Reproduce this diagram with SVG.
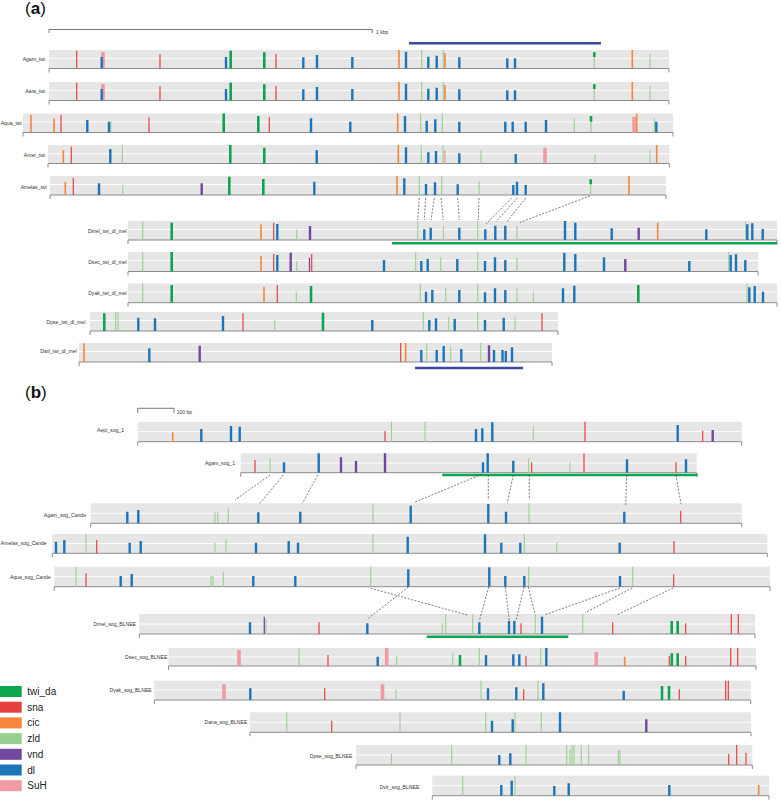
<svg xmlns="http://www.w3.org/2000/svg" width="781" height="801" viewBox="0 0 781 801">
<style>
.band{fill:#e6e6e6}
.mid{stroke:#fff;stroke-width:1;fill:none}
.base{fill:none;stroke:#8c8c8c;stroke-width:1}
.lbl{font-family:"Liberation Sans",Arial,sans-serif;font-size:5.1px;fill:#333;text-anchor:end}
.ttl{font-family:"Liberation Sans",Arial,sans-serif;font-size:17px;fill:#111}
.leg{font-family:"Liberation Sans",Arial,sans-serif;font-size:10px;fill:#222}
.sm{font-family:"Liberation Sans",Arial,sans-serif;font-size:5px;fill:#333}
.d{stroke:#1c75b8;stroke-width:2.4;fill:none}
.t{stroke:#0ea550;stroke-width:2.6;fill:none}
.s{stroke:#e8403f;stroke-width:1.2;fill:none}
.c{stroke:#f5863b;stroke-width:1.6;fill:none}
.z{stroke:#98d08f;stroke-width:1.1;fill:none}
.v{stroke:#7147a0;stroke-width:2.4;fill:none}
.h{stroke:#f29aa3;stroke-width:3.6;fill:none}
.con{stroke:#444;stroke-width:0.7;stroke-dasharray:2 1.5;fill:none}
.sc{fill:none;stroke:#555;stroke-width:0.8}
</style>

<!-- Panel a -->
<text class="ttl" x="25" y="14">(<tspan font-weight="bold">a</tspan>)</text>
<g id="scale_a">
<path class="sc" d="M49 33V29.5H372.3V33"/>
<text class="sm" x="376" y="34">1 kbp</text>
</g>
<path d="M409 43.3H601" stroke="#3b4b9e" stroke-width="2.6"/>

<g id="agam_twi">
<rect class="band" x="49" y="50" width="620" height="18.5"/>
<path class="mid" d="M49 58.3H669"/>
<path class="base" d="M49 72.5V68.5H669V72.5"/>
<text class="lbl" x="45" y="61">Agam_twi</text>
<path class="z" d="M421.7 50V68.5M443.3 50V68.5M594.3 52.3V68.5M650 54.3V68.5"/>
<path class="h" d="M103 52V68.5"/>
<path class="c" d="M399 50V68.5M445 53.3V68.5M632.3 50V68.5"/>
<path class="s" d="M76.7 50.7V68.5M160 54V68.5M276 54V68.5"/>
<path class="t" d="M230.7 50.7V68.5M264.3 52.3V68.5M594.3 52.3V57"/>
<path class="d" d="M101.7 57V68.5M226 57V68.5M303.3 57.3V68.5M317 55V68.5M352.3 57V68.5M406 51.7V68.5M428.3 56.7V68.5M436.7 55.7V68.5M459.3 57.3V68.5M507.3 58.3V68.5M515 58.3V68.5"/>
</g>

<g id="aara_twi" transform="translate(0,32)">
<rect class="band" x="49" y="50" width="620" height="18.5"/>
<path class="mid" d="M49 58.3H669"/>
<path class="base" d="M49 72.5V68.5H669V72.5"/>
<text class="lbl" x="45" y="60.5">Aara_twi</text>
<path class="z" d="M421.7 50V68.5M443.3 50V68.5M594.3 52.3V68.5M650 54.3V68.5"/>
<path class="h" d="M103 52V68.5"/>
<path class="c" d="M399 50V68.5M445 53.3V68.5M632.3 50V68.5"/>
<path class="s" d="M76.7 50.7V68.5M160 54V68.5M276 54V68.5"/>
<path class="t" d="M230.7 50.7V68.5M264.3 52.3V68.5M594.3 52.3V57"/>
<path class="d" d="M101.7 57V68.5M226 57V68.5M303.3 57.3V68.5M317 55V68.5M352.3 57V68.5M406 51.7V68.5M428.3 56.7V68.5M436.7 55.7V68.5M459.3 57.3V68.5M507.3 58.3V68.5M515 58.3V68.5"/>
</g>

<g id="aqua_twi">
<rect class="band" x="23" y="113.5" width="650" height="19"/>
<path class="mid" d="M23 122H673"/>
<path class="base" d="M23 136.5V132.5H673V136.5"/>
<text class="lbl" x="21.7" y="125">Aqua_twi</text>
<path class="z" d="M110.8 121.7V132.5M420.7 113.5V132.5M442.3 113.5V132.5M574.3 118.3V132.5M591 116V132.5M654.3 118.3V132.5"/>
<path class="h" d="M634 116.7V132.5"/>
<path class="c" d="M31 115V132.5M54 118.3V132.5M397.7 113.5V132.5M636.7 113.5V132.5"/>
<path class="s" d="M61 115V132.5M149 117.3V132.5M269.3 117.3V132.5"/>
<path class="t" d="M223.7 113.5V132.5M258.3 116V132.5M591 116V121.7"/>
<path class="d" d="M87.3 120V132.5M109 121.7V132.5M311 118.3V132.5M350.3 121.7V132.5M405 116V132.5M426.7 120.7V132.5M435.3 119.3V132.5M459.3 121.7V132.5M505.3 121.7V132.5M512.7 121.7V132.5M525.7 121.7V132.5M546 120V132.5M656.3 121.7V132.5"/>
</g>

<g id="amer_twi">
<rect class="band" x="48" y="145" width="621.3" height="18.5"/>
<path class="mid" d="M48 153.8H669.3"/>
<path class="base" d="M48 167.5V163.5H669.3V167.5"/>
<text class="lbl" x="45" y="157">Amer_twi</text>
<path class="z" d="M122.3 145V163.5M421.3 145V163.5M443 145V163.5M481 150V163.5M595 154.3V163.5M650 150V163.5"/>
<path class="h" d="M545 147.7V163.5"/>
<path class="h" style="stroke-width:1.3" d="M444.8 150V163.5"/>
<path class="c" d="M63.3 150V163.5M398.3 145V163.5M656.7 145V163.5"/>
<path class="s" d="M71.3 146.7V163.5"/>
<path class="t" d="M230.3 145V163.5M264.3 147.7V163.5"/>
<path class="d" d="M110.3 149V163.5M316.7 150.3V163.5M406 147.3V163.5M428.3 152.3V163.5M436 151V163.5M459.3 153.3V163.5M515.7 154V163.5"/>
</g>

<g id="amelas_twi">
<rect class="band" x="50" y="176" width="616" height="19"/>
<path class="mid" d="M50 184.5H666"/>
<path class="base" d="M50 199V195H666V199"/>
<text class="lbl" x="46.7" y="188.5">Amelas_twi</text>
<path class="z" d="M122.7 185V195M419.3 176V195M441.7 176V195M479 181V195M590.7 179.3V195"/>
<path class="c" d="M65.3 181.7V195M397 176V195M629 176V195"/>
<path class="s" d="M73.3 177.7V195"/>
<path class="v" d="M201.7 183.3V195"/>
<path class="t" d="M229.3 176.7V195M263.3 179V195M590.7 179.3V184.3"/>
<path class="d" d="M99 183.3V195M314.3 181.7V195M404.3 178.3V195M426 184V195M435 182.3V195M457.7 184.3V195M513.3 185V195M517 181.7V195M525.7 185V195"/>
</g>

<g id="dmel_twi_dl_mel">
<rect class="band" x="128" y="221" width="649" height="19"/>
<path class="mid" d="M128 229.5H777"/>
<path class="base" d="M128 244V240H777V244"/>
<text class="lbl" x="126.7" y="233">Dmel_twi_dl_mel</text>
<path class="z" d="M142.7 221V240M296.7 229.3V240M417.7 221V240M443.3 225.7V240M477.7 221V240M517 225.7V240M745.7 221V240"/>
<path class="c" d="M261 224.3V240M657.7 222.7V240"/>
<path class="s" d="M273.7 222.7V240"/>
<path class="v" d="M310 226V240M638.7 227.7V240"/>
<path class="t" d="M171.7 222.7V240"/>
<path class="d" d="M277.3 224V240M424.3 229.3V240M430.7 227.7V240M459.3 227.7V240M485.3 229.3V240M495.3 225.7V240M505.3 225.7V240M565 221V240M575.3 222.7V240M611.7 228.3V240M706.3 229.3V240M747.3 224.3V240M752.3 223.3V240M762.7 229V240"/>
</g>
<path d="M392 243.3H777" stroke="#0ea550" stroke-width="2.5"/>

<g id="dsec_twi_dl_mel">
<rect class="band" x="128" y="252" width="630" height="19.5"/>
<path class="mid" d="M128 260.5H758"/>
<path class="base" d="M128 275.5V271.5H758V275.5"/>
<text class="lbl" x="126.7" y="264">Dsec_twi_dl_mel</text>
<path class="z" d="M142.7 252V271.5M296.7 261V271.5M415.7 252V271.5M440.7 257.3V271.5M477.7 252V271.5M517 257.3V271.5M728.7 252V271.5"/>
<path class="c" d="M261 256V271.5"/>
<path class="s" d="M273.7 254V271.5M311.7 254V271.5"/>
<path class="v" d="M290.7 252.7V271.5M625.3 259V271.5"/>
<path class="v" style="stroke-width:1.3" d="M309.5 257.7V271.5"/>
<path class="t" d="M171.7 252V271.5"/>
<path class="d" d="M277.3 255V271.5M384 260V271.5M421.3 261V271.5M427.7 259V271.5M457.3 259V271.5M485 261V271.5M495 257.3V271.5M505.3 260V271.5M564.3 252.7V271.5M575.3 254V271.5M604 257.3V271.5M689.3 261V271.5M730.7 255V271.5M736 254.3V271.5M745.3 260V271.5"/>
</g>

<g id="dyak_twi_dl_mel">
<rect class="band" x="128" y="283.5" width="649" height="19.2"/>
<path class="mid" d="M128 292H777"/>
<path class="base" d="M128 306.7V302.7H777V306.7"/>
<text class="lbl" x="126.7" y="295">Dyak_twi_dl_mel</text>
<path class="z" d="M142.7 283.5V302.7M296.3 291.7V302.7M420.3 283.5V302.7M445.7 288.3V302.7M477.7 283.5V302.7M517 288.3V302.7M533.3 291.7V302.7M747 283.5V302.7"/>
<path class="c" d="M264 286.7V302.7"/>
<path class="s" d="M277.3 285V302.7"/>
<path class="t" d="M171.7 285V302.7M311 286V302.7M638.3 285V302.7"/>
<path class="d" d="M426 291.7V302.7M432.3 290V302.7M459.3 290V302.7M485 292.3V302.7M495 288.3V302.7M505.3 290V302.7M563 288.3V302.7M574.3 285.7V302.7M749.3 287.3V302.7M754.7 286V302.7M763 291.7V302.7"/>
</g>

<g id="dpse_twi_dl_mel">
<rect class="band" x="90" y="312" width="468" height="19"/>
<path class="mid" d="M90 320.5H558"/>
<path class="base" d="M90 335V331H558V335"/>
<text class="lbl" x="85.3" y="323.5">Dpse_twi_dl_mel</text>
<path class="z" d="M115.7 312V331M118 312V331M274.7 320V331M423.3 312V331M448.7 316.7V331M477.7 312V331M515 316.7V331"/>
<path class="s" d="M243 313.3V331M542 313.3V331"/>
<path class="t" d="M104.3 313.3V331M323 312.7V331"/>
<path class="d" d="M138.3 317.7V331M155 318.3V331M223 316V331M372.3 320V331M429.3 320V331M436 318.3V331M454.7 319V331M485 320V331M503.7 317.7V331"/>
</g>

<g id="dwil_twi_dl_mel">
<rect class="band" x="79" y="343" width="473" height="19"/>
<path class="mid" d="M79 351.5H552"/>
<path class="base" d="M79 366V362H552V366"/>
<text class="lbl" x="76.7" y="352.5">Dwil_twi_dl_mel</text>
<path class="z" d="M426.7 343V362M450.7 346.7V362M480.7 343V362"/>
<path class="c" d="M84 343.3V362M405.7 343V362"/>
<path class="s" d="M400.7 343V362"/>
<path class="v" d="M199.7 345.7V362M489 345.3V362"/>
<path class="d" d="M149.3 348.3V362M421.3 350V362M436.7 350V362M443.7 346V362M461.3 349V362M494 350V362M502.5 350V362M505.8 351V362M512 347.3V362"/>
</g>
<path d="M415 368H523" stroke="#3b4b9e" stroke-width="2.6"/>

<g id="connectors_a">
<path class="con" d="M419.3 198L417.7 220M425.7 198L424.3 220M434.3 198L431 220M441 198L443.3 220M457.7 198L459.3 220M479 198L478.3 220M511.7 198L486 224M517.3 198L495.7 222M525.7 198L506.7 222M590 196L520 222.3"/>
</g>

<!-- Panel b -->
<text class="ttl" x="25" y="397.5">(<tspan font-weight="bold">b</tspan>)</text>
<g id="scale_b">
<path class="sc" d="M137.7 413V408.3H174V413"/>
<text class="sm" x="176.7" y="413.5">100 bp</text>
</g>

<g id="aepi_sog_1">
<rect class="band" x="137.7" y="421.7" width="604" height="20"/>
<path class="mid" d="M137.7 431.7H741.7"/>
<path class="base" d="M137.7 445.7V441.7H741.7V445.7"/>
<text class="lbl" x="124" y="432">Aepi_sog_1</text>
<path class="z" d="M391.5 421.7V441.7M425 421.7V441.7M533.3 426.7V441.7"/>
<path class="c" d="M172.7 432.3V441.7"/>
<path class="s" d="M385 431V441.7M585 421.7V441.7M702.7 430.7V441.7"/>
<path class="v" d="M712.7 430V441.7"/>
<path class="d" d="M201.3 429V441.7M231 426V441.7M239.7 426.7V441.7M476 429V441.7M482.3 428.3V441.7M492.3 422.3V441.7M677.7 425V441.7"/>
</g>

<g id="agam_sog_1">
<rect class="band" x="240.7" y="453.3" width="456" height="19.4"/>
<path class="mid" d="M240.7 463H696.7"/>
<path class="base" d="M240.7 476.7V472.7H696.7V476.7"/>
<text class="lbl" x="235" y="465">Agam_sog_1</text>
<path class="z" d="M270 458.3V472.7M528.7 458.3V472.7M570 462.3V472.7"/>
<path class="s" d="M255 460V472.7M531.7 462.3V472.7M584 453.3V472.7M676 462.3V472.7"/>
<path class="v" d="M341 457.3V472.7M356 461V472.7M385 453.3V472.7"/>
<path class="d" d="M284 462.3V472.7M318.7 453.3V472.7M483 462.3V472.7M487.7 453.3V472.7M513.3 460.7V472.7M627 459.3V472.7M686 459.3V472.7"/>
</g>
<path d="M442.3 475H697.7" stroke="#0ea550" stroke-width="2.5"/>

<g id="agam_sog_cande">
<rect class="band" x="90.7" y="503.3" width="651" height="20"/>
<path class="mid" d="M90.7 513.3H741.7"/>
<path class="base" d="M90.7 527.3V523.3H741.7V527.3"/>
<text class="lbl" x="86" y="517">Agam_sog_Cande</text>
<path class="z" d="M215 512.3V523.3M217.7 512.3V523.3M228.3 507.7V523.3M373 503.3V523.3M529 503.3V523.3"/>
<path class="s" d="M680.7 510.7V523.3"/>
<path class="d" d="M127.3 511.7V523.3M138.3 510V523.3M258.3 512.3V523.3M300.3 511.7V523.3M410.7 505.7V523.3M488.3 504V523.3M506 511.7V523.3M624.3 511.7V523.3"/>
</g>

<g id="amelas_sog_cande">
<rect class="band" x="52.3" y="534" width="715" height="19.3"/>
<path class="mid" d="M52.3 543.5H767.3"/>
<path class="base" d="M52.3 557.3V553.3H767.3V557.3"/>
<text class="lbl" x="46.7" y="545">Amelas_sog_Cande</text>
<path class="z" d="M86 534V553.3M215 542.7V553.3M226 539V553.3M373 534V553.3M524.3 534V553.3M556.7 542.7V553.3"/>
<path class="s" d="M96.7 540V553.3M674 541V553.3"/>
<path class="d" d="M56 541.7V553.3M64.3 540V553.3M129.7 542.7V553.3M140.7 541V553.3M256 542.7V553.3M288.7 541V553.3M298 542.7V553.3M407.7 536.7V553.3M485 534.3V553.3M501.3 542.7V553.3M520.3 542.7V553.3M619.7 542.7V553.3"/>
</g>

<g id="aqua_sog_cande">
<rect class="band" x="54.3" y="566.7" width="715.7" height="20"/>
<path class="mid" d="M54.3 576.7H770"/>
<path class="base" d="M54.3 590.7V586.7H770V590.7"/>
<text class="lbl" x="50.7" y="578.5">Aqua_sog_Cande</text>
<path class="z" d="M76 566.7V586.7M211 576V586.7M213 576V586.7M223.3 571.7V586.7M370.7 566.7V586.7M528.7 566.7V586.7M632.7 566.7V586.7"/>
<path class="s" d="M86 573.3V586.7M673.7 574.3V586.7"/>
<path class="d" d="M120.7 576V586.7M131.7 574V586.7M253.3 576V586.7M295.3 576V586.7M408.3 569.3V586.7M489.3 567.3V586.7M505.3 576V586.7M524.3 576V586.7M620 576V586.7"/>
</g>

<g id="dmel_sog_blnee">
<rect class="band" x="139.3" y="614" width="615.7" height="20"/>
<path class="mid" d="M139.3 624H755"/>
<path class="base" d="M139.3 638V634H755V638"/>
<text class="lbl" x="136" y="626">Dmel_sog_BLNEE</text>
<path class="z" d="M266 619V634M442.3 623.3V634M445.7 614V634M472.7 614V634M535.3 614V634M582.7 614V634"/>
<path class="s" d="M319 622.3V634M521 623.3V634M612.7 622.3V634M685.7 623.3V634M731.3 614V634M738.3 614V634"/>
<path class="v" style="stroke-width:1.3" d="M264.3 616.7V634"/>
<path class="t" d="M671.7 621V634M677.7 621V634"/>
<path class="d" d="M250 622.3V634M367.3 623.3V634M479.3 622.3V634M509 621V634M514.3 621V634M542 616.7V634"/>
</g>
<path d="M426.7 636.7H568.3" stroke="#0ea550" stroke-width="2.5"/>

<g id="dsec_sog_blnee">
<rect class="band" x="168.5" y="648" width="587.5" height="18"/>
<path class="mid" d="M168.5 657H756"/>
<path class="base" d="M168.5 670V666H756V670"/>
<text class="lbl" x="167.3" y="659">Dsec_sog_BLNEE</text>
<path class="h" d="M239 650V666M386.7 648V666M596.3 651.7V666"/>
<path class="z" d="M299 648V666M396.7 656V666M452.7 652.7V666M479.3 648V666M540.7 648V666"/>
<path class="c" d="M624.7 656.7V666"/>
<path class="s" d="M328 655V666M526 656V666M669.3 656V666M685.7 656V666M730.7 648V666M737.7 648V666"/>
<path class="t" d="M460 655V666M671.8 653.3V666M677.7 653.3V666"/>
<path class="d" d="M377.7 656.7V666M486 655V666M513.3 654.3V666M519.3 654.3V666M546.3 648V666"/>
</g>

<g id="dyak_sog_blnee">
<rect class="band" x="154.3" y="680.7" width="596.4" height="19.3"/>
<path class="mid" d="M154.3 690H750.7"/>
<path class="base" d="M154.3 704V700H750.7V704"/>
<text class="lbl" x="151.7" y="691.7">Dyak_sog_BLNEE</text>
<path class="h" d="M224 684.3V700M382.5 684.3V700"/>
<path class="z" d="M396 689.3V700M481 680.7V700M538 680.7V700"/>
<path class="s" d="M324.7 688.3V700M523.7 689.3V700M679.3 689.3V700M725.7 680.7V700M728.3 680.7V700"/>
<path class="t" d="M662 686V700M669 686V700"/>
<path class="d" d="M250.3 688.3V700M488 688.3V700M516.3 687.3V700M543.3 683.3V700M623.7 690.7V700"/>
</g>

<g id="dana_sog_blnee">
<rect class="band" x="250" y="712.3" width="501" height="20"/>
<path class="mid" d="M250 722.3H751"/>
<path class="base" d="M250 736.3V732.3H751V736.3"/>
<text class="lbl" x="247.3" y="723.5">Dana_sog_BLNEE</text>
<path class="z" d="M286.7 712.3V732.3M400 712.3V732.3M485.7 712.3V732.3M515 712.3V732.3M541.3 712.3V732.3"/>
<path class="s" d="M331.7 720.7V732.3"/>
<path class="v" d="M646.3 719.3V732.3"/>
<path class="d" d="M492 720.7V732.3M512.7 719.3V732.3M560 712.3V732.3"/>
</g>

<g id="dpse_sog_blnee">
<rect class="band" x="356" y="745" width="396.3" height="20"/>
<path class="mid" d="M356 755H752.3"/>
<path class="base" d="M356 769V765H752.3V769"/>
<text class="lbl" x="352.3" y="757.5">Dpse_sog_BLNEE</text>
<path class="z" d="M391.5 754V765M451.7 745V765M526 745V765M566.7 745V765M570 750V765M572 745V765M574 745V765M581.3 745V765M588.7 745V765M618.3 750V765M620 750V765"/>
<path class="s" d="M728.7 754V765M736.7 745V765M746 752.7V765"/>
<path class="d" d="M499.3 755V765M510.3 753.3V765"/>
</g>

<g id="dvir_sog_blnee">
<rect class="band" x="432.3" y="775.7" width="336.7" height="20"/>
<path class="mid" d="M432.3 785.7H769"/>
<path class="base" d="M432.3 799.7V795.7H769V799.7"/>
<text class="lbl" x="419.3" y="789">Dvir_sog_BLNEE</text>
<path class="z" d="M462.7 775.7V795.7M515 775.7V795.7"/>
<path class="c" d="M758.7 785V795.7"/>
<path class="d" d="M501.3 785V795.7M511.7 780.7V795.7M554.3 786V795.7M568.7 783.3V795.7M669.3 785V795.7"/>
</g>

<g id="connectors_b">
<path class="con" d="M270 475L235 500M283.3 475L260 503.3M317.7 475L302.3 503.3M481.7 474.3L414.3 502.3M488.3 475L488.3 500M513.3 475L507.3 503.3M529.3 475L529.3 500M626.7 475L625.7 506M676 475L681 504"/>
<path class="con" d="M370.7 588.3L467.3 615M408.3 587L368.3 618.3M488.7 587L479.3 621M505.3 587L509.3 621M524 587L516 621M528.3 587L535 614.3M620 588L544.3 615M632.3 588L585 612.7M673.3 588L616.7 615"/>
</g>

<g id="legend">
<rect x="0" y="686" width="21.7" height="11" fill="#0ea550"/>
<text class="leg" x="27.3" y="695">twi_da</text>
<rect x="0" y="701.7" width="21.7" height="11" fill="#e8403f"/>
<text class="leg" x="27.3" y="710.7">sna</text>
<rect x="0" y="717.4" width="21.7" height="11" fill="#f5863b"/>
<text class="leg" x="27.3" y="726.4">cic</text>
<rect x="0" y="733.1" width="21.7" height="11" fill="#98d08f"/>
<text class="leg" x="27.3" y="742.1">zld</text>
<rect x="0" y="748.8" width="21.7" height="11" fill="#7147a0"/>
<text class="leg" x="27.3" y="757.8">vnd</text>
<rect x="0" y="764.5" width="21.7" height="11" fill="#1c75b8"/>
<text class="leg" x="27.3" y="773.5">dl</text>
<rect x="0" y="780.2" width="21.7" height="11" fill="#f29aa3"/>
<text class="leg" x="27.3" y="789.2">SuH</text>
</g>
</svg>
